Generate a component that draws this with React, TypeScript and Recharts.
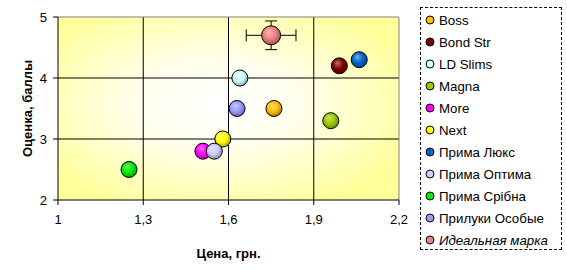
import React from 'react';
import {
  ScatterChart, Scatter, XAxis, YAxis, CartesianGrid, ErrorBar, ReferenceLine, Label,
} from 'recharts';

const brands = ['Boss', 'Bond Str', 'LD Slims', 'Magna', 'More', 'Next', 'Прима Люкс', 'Прима Оптима', 'Прима Срібна', 'Прилуки Особые', 'Идеальная марка'];
const prices = [1.76, 1.99, 1.64, 1.96, 1.51, 1.58, 2.06, 1.55, 1.25, 1.63, 1.75];
const scores = [3.5, 4.2, 4.0, 3.3, 2.8, 3.0, 4.3, 2.8, 2.5, 3.5, 4.7];
const priceErrors = [0, 0, 0, 0, 0, 0, 0, 0, 0, 0, 0.0875];
const scoreErrors = [0, 0, 0, 0, 0, 0, 0, 0, 0, 0, 0.235];
const colors = ['#FFC000', '#800000', '#CCFFFF', '#99CC00', '#FF00FF', '#FFFF00', '#0066CC', '#CCCCFF', '#00EE00', '#9999FF', '#F08080'];
const xTicks = [1, 1.3, 1.6, 1.9, 2.2];
const yTicks = [2, 3, 4, 5];

const FONT = 'Arial, "Liberation Sans", sans-serif';

function shade(hex: string, f: number) {
  const n = parseInt(hex.slice(1), 16);
  let r = (n >> 16) & 255, g = (n >> 8) & 255, b = n & 255;
  if (f >= 0) {
    r = r + (255 - r) * f; g = g + (255 - g) * f; b = b + (255 - b) * f;
  } else {
    r = r * (1 + f); g = g * (1 + f); b = b * (1 + f);
  }
  return `rgb(${Math.round(r)},${Math.round(g)},${Math.round(b)})`;
}

const makeShape = (i: number, r: number) => (props: any) => {
  const { cx, cy } = props;
  if (cx == null || cy == null) return <g />;
  return (
    <circle cx={cx} cy={cy} r={r} fill={`url(#ball${i})`} stroke="#000" strokeWidth={1} />
  );
};

const LegendBox = () => (
  <div style={{ position: 'absolute', left: 420, top: 7, width: 142, height: 243, border: '1px dashed #000', boxSizing: 'border-box', fontFamily: FONT, fontSize: 13.3 }}>
    {brands.map((b, i) => (
      <div key={b} style={{ position: 'absolute', left: 0, top: 3 + i * 22, height: 18, display: 'flex', alignItems: 'center', whiteSpace: 'nowrap' }}>
        <svg width={14} height={16} style={{ marginLeft: 2 }}>
          <circle cx={7} cy={8} r={4} fill={colors[i]} stroke="#000" strokeWidth={1} />
        </svg>
        <span style={{ marginLeft: 2, fontStyle: i === brands.length - 1 ? 'italic' : 'normal', color: '#000' }}>{b}</span>
      </div>
    ))}
  </div>
);

export default function App() {
  const fmt = (v: number) => String(v).replace('.', ',');
  return (
    <div style={{ position: 'absolute', left: 0, top: 0, width: 567, height: 270, background: '#fff' }}>
      <ScatterChart width={567} height={270} margin={{ top: 17, right: 168, bottom: 10, left: 0 }}>
        <defs>
          <radialGradient id="plotBg" cx="0.47" cy="0.48" r="0.62" fx="0.47" fy="0.48">
            <stop offset="0" stopColor="#FFFFFF" />
            <stop offset="0.4" stopColor="#FFFFEC" />
            <stop offset="1" stopColor="#FFFF99" />
          </radialGradient>
          {colors.map((c, i) => (
            <radialGradient key={i} id={`ball${i}`} cx="0.45" cy="0.42" r="0.6" fx="0.38" fy="0.32">
              <stop offset="0" stopColor={shade(c, 0.45)} />
              <stop offset="0.55" stopColor={c} />
              <stop offset="1" stopColor={shade(c, -0.35)} />
            </radialGradient>
          ))}
        </defs>
        <CartesianGrid
          fill="url(#plotBg)"
          fillOpacity={1}
          stroke="#000"
          strokeOpacity={1}
          horizontalValues={[3, 4]}
          verticalValues={[1.3, 1.6, 1.9]}
        />
        <ReferenceLine y={5} stroke="#808080" strokeWidth={1} />
        <ReferenceLine x={2.2} stroke="#808080" strokeWidth={1} />
        <XAxis
          type="number"
          dataKey="x"
          domain={[1, 2.2]}
          ticks={xTicks}
          tickFormatter={fmt}
          stroke="#000"
          tickSize={5}
          tickMargin={10}
          height={60}
          tick={{ fill: '#000', fontSize: 13, fontFamily: FONT }}
          axisLine={{ stroke: '#000' }}
          tickLine={{ stroke: '#000' }}
          allowDataOverflow
        >
          <Label
            content={(p: any) => {
              const vb = p.viewBox || {};
              return (
                <text x={vb.x + vb.width / 2} y={258} textAnchor="middle" fontFamily={FONT} fontSize={13} fontWeight="bold" fill="#000">
                  Цена, грн.
                </text>
              );
            }}
          />
        </XAxis>
        <YAxis
          type="number"
          dataKey="y"
          domain={[2, 5]}
          ticks={yTicks}
          width={58}
          stroke="#000"
          tickSize={5}
          tickMargin={6}
          tick={{ fill: '#000', fontSize: 13, fontFamily: FONT }}
          axisLine={{ stroke: '#000' }}
          tickLine={{ stroke: '#000' }}
          allowDataOverflow
        >
          <Label
            content={(p: any) => {
              const vb = p.viewBox || {};
              const cx = 27;
              const cy = vb.y + vb.height / 2;
              return (
                <text x={cx} y={cy} transform={`rotate(-90 ${cx} ${cy})`} textAnchor="middle" dominantBaseline="central" fontFamily={FONT} fontSize={13} fontWeight="bold" fill="#000">
                  Оценка, баллы
                </text>
              );
            }}
          />
        </YAxis>
        {brands.map((b, i) => (
          <Scatter
            key={b}
            name={b}
            data={[{ x: prices[i], y: scores[i], ex: priceErrors[i], ey: scoreErrors[i] }]}
            fill={colors[i]}
            isAnimationActive={false}
            shape={makeShape(i, i === brands.length - 1 ? 9.5 : 8)}
          >
            {i === brands.length - 1 && (
              <ErrorBar dataKey="ex" direction="x" width={6} stroke="#000" strokeWidth={1} />
            )}
            {i === brands.length - 1 && (
              <ErrorBar dataKey="ey" direction="y" width={6} stroke="#000" strokeWidth={1} />
            )}
          </Scatter>
        ))}
      </ScatterChart>
      <LegendBox />
    </div>
  );
}
